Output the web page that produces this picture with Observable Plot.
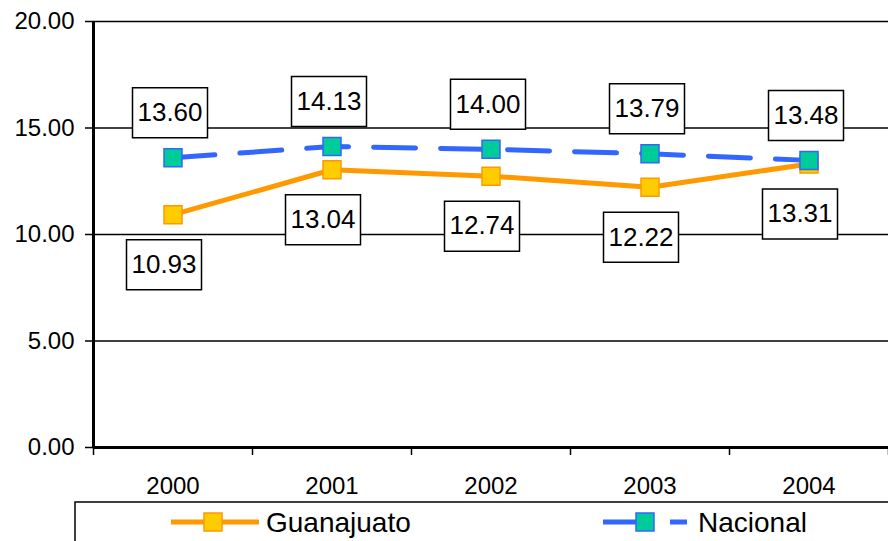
<!DOCTYPE html>
<html>
<head>
<meta charset="utf-8">
<script src="https://cdn.jsdelivr.net/npm/d3@7"></script>
<script src="https://cdn.jsdelivr.net/npm/@observablehq/plot@0.6"></script>
<style>
  html, body { margin: 0; padding: 0; background: white; overflow: hidden; }
  body { width: 888px; height: 541px; font-family: Arial, "Liberation Sans", sans-serif; }
  #legend { position: relative; width: 888px; height: 41px; overflow: hidden; }
</style>
</head>
<body>
<div id="chart"></div>
<div id="legend"></div>
<script>
const years = ["2000", "2001", "2002", "2003", "2004"];
const guanajuato = [10.93, 13.04, 12.74, 12.22, 13.31];
const nacional = [13.60, 14.13, 14.00, 13.79, 13.48];
const yTicks = [0, 5, 10, 15, 20];
const seriesNames = ["Guanajuato", "Nacional"];

const gData = years.map((y, i) => ({i, year: y, value: guanajuato[i]}));
const nData = years.map((y, i) => ({i, year: y, value: nacional[i]}));
const bounds = d3.range(years.length + 1).map(i => i - 0.5);

const sq = {draw(ctx) { ctx.rect(-9, -9, 18, 18); }};
const box = {draw(ctx) { ctx.rect(-37.5, -25, 75, 50); }};

const font = "Arial, 'Liberation Sans', sans-serif";

const chart = Plot.plot({
  width: 888,
  height: 500,
  marginLeft: 93,
  marginRight: 0,
  marginTop: 21,
  marginBottom: 53,
  style: {fontFamily: font, fontSize: "24px", background: "white", color: "black"},
  x: {domain: [-0.5, years.length - 0.5], axis: null, label: null},
  y: {domain: [0, 20], axis: null, label: null},
  marks: [
    Plot.ruleY(yTicks.filter(d => d > 0), {stroke: "black", strokeWidth: 1.5}),
    Plot.axisY({ticks: yTicks, tickFormat: d => d.toFixed(2), tickSize: 8, tickPadding: 11, strokeWidth: 1.5, fontSize: 24, label: null}),
    Plot.axisX({ticks: bounds, tickFormat: () => "", tickSize: 8, strokeWidth: 1.5, label: null}),
    Plot.axisX({ticks: d3.range(years.length), tickFormat: i => years[i], tickSize: 0, tickPadding: 29, fontSize: 24, label: null}),
    Plot.ruleX([-0.5], {stroke: "black", strokeWidth: 3}),
    Plot.ruleY([0], {stroke: "black", strokeWidth: 3}),
    Plot.line(gData, {x: "i", y: "value", stroke: "#FF9900", strokeWidth: 5}),
    Plot.dot(gData, {x: "i", y: "value", symbol: sq, r: 5, fill: "#FFCC00", stroke: "#FF9900", strokeWidth: 1.5}),
    Plot.line(nData, {x: "i", y: "value", stroke: "#3366FF", strokeWidth: 5, strokeDasharray: "42,25"}),
    Plot.dot(nData, {x: "i", y: "value", symbol: sq, r: 5, fill: "#00CC99", stroke: "#3366FF", strokeWidth: 1.5}),
    Plot.dot(nData, {x: "i", y: "value", symbol: box, r: 5, dx: -3, dy: -45, fill: "white", stroke: "black", strokeWidth: 1.5}),
    Plot.text(nData, {x: "i", y: "value", text: d => d.value.toFixed(2), dx: -3, dy: -45, fontSize: 26, fill: "black"}),
    Plot.dot(gData, {x: "i", y: "value", symbol: box, r: 5, dx: -9, dy: 50, fill: "white", stroke: "black", strokeWidth: 1.5}),
    Plot.text(gData, {x: "i", y: "value", text: d => d.value.toFixed(2), dx: -9, dy: 50, fontSize: 26, fill: "black"})
  ]
});
document.getElementById("chart").appendChild(chart);

// Legend (below the SVG)
const lg = d3.select("#legend").append("svg").attr("width", 888).attr("height", 41);
lg.append("rect").attr("x", 75).attr("y", 2).attr("width", 900).attr("height", 60)
  .attr("fill", "white").attr("stroke", "black").attr("stroke-width", 1.5);
const cy = 22;
// Guanajuato
lg.append("line").attr("x1", 171).attr("x2", 259).attr("y1", cy).attr("y2", cy)
  .attr("stroke", "#FF9900").attr("stroke-width", 5);
lg.append("rect").attr("x", 204).attr("y", cy - 9).attr("width", 18).attr("height", 18)
  .attr("fill", "#FFCC00").attr("stroke", "#FF9900").attr("stroke-width", 1.5);
lg.append("text").attr("x", 266).attr("y", cy + 10).attr("font-size", 28).attr("font-family", font)
  .text(seriesNames[0]);
// Nacional
lg.append("line").attr("x1", 603).attr("x2", 687).attr("y1", cy).attr("y2", cy)
  .attr("stroke", "#3366FF").attr("stroke-width", 5).attr("stroke-dasharray", "42,25");
lg.append("rect").attr("x", 636).attr("y", cy - 9).attr("width", 18).attr("height", 18)
  .attr("fill", "#00CC99").attr("stroke", "#3366FF").attr("stroke-width", 1.5);
lg.append("text").attr("x", 698).attr("y", cy + 10).attr("font-size", 28).attr("font-family", font)
  .text(seriesNames[1]);
</script>
</body>
</html>
